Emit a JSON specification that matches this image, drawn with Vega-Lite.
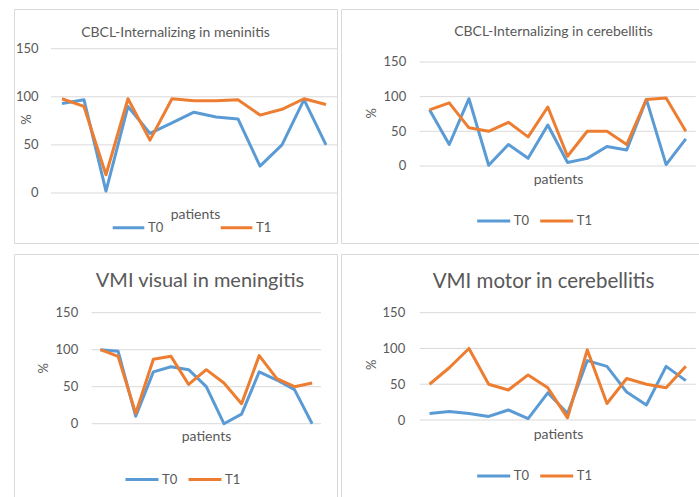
{
  "$schema": "https://vega.github.io/schema/vega-lite/v6.json",
  "padding": {"left": 13, "top": 8, "right": 0, "bottom": 0},
  "background": "white",
  "columns": 2,
  "spacing": {"row": 9, "column": 2},
  "resolve": {"scale": {"color": "independent", "x": "independent", "y": "independent"}, "legend": {"color": "independent"}},
  "config": {
    "font": "Lato",
    "view": {"stroke": "#d9d9d9", "strokeWidth": 1},
    "axis": {"grid": false, "domain": false, "ticks": false, "labelFont": "Lato", "labelColor": "#595959", "labelFontSize": 13, "titleFont": "Lato", "titleColor": "#595959", "titleFontWeight": "normal", "titleFontSize": 13},
    "title": {"font": "Lato", "color": "#595959", "fontWeight": "normal", "anchor": "middle", "baseline": "middle"},
    "legend": {"orient": "none", "direction": "horizontal", "symbolType": "stroke", "symbolStrokeWidth": 3, "labelFont": "Lato", "labelFontSize": 13, "labelColor": "#595959", "padding": 0, "labelOffset": 2},
    "line": {"strokeWidth": 3, "strokeJoin": "round"}
  },
  "concat": [
    {
      "width": 323, "height": 234,
      "title": {"text": "CBCL-Internalizing in meninitis", "fontSize": 14, "offset": -31, "dx": 0},
      "data": {"values": [
        {"p": 1, "T0": 93, "T1": 98}, {"p": 2, "T0": 97, "T1": 90}, {"p": 3, "T0": 2, "T1": 19},
        {"p": 4, "T0": 90, "T1": 98}, {"p": 5, "T0": 62, "T1": 55}, {"p": 6, "T0": 73, "T1": 98},
        {"p": 7, "T0": 84, "T1": 96}, {"p": 8, "T0": 79, "T1": 96}, {"p": 9, "T0": 77, "T1": 97},
        {"p": 10, "T0": 28, "T1": 81}, {"p": 11, "T0": 50, "T1": 87}, {"p": 12, "T0": 97, "T1": 98},
        {"p": 13, "T0": 50, "T1": 92}
      ]},
      "layer": [
        {
          "data": {"values": [{"g": 0}, {"g": 50}, {"g": 100}, {"g": 150}]},
          "mark": {"type": "rule", "color": "#d9d9d9", "strokeWidth": 1},
          "encoding": {"y": {"field": "g", "type": "quantitative"}, "x": {"datum": 0.5}, "x2": {"datum": 13.5}}
        },
        {
          "transform": [{"fold": ["T0", "T1"], "as": ["series", "value"]}],
          "mark": "line",
          "encoding": {
            "x": {"field": "p", "type": "quantitative", "scale": {"domain": [-1.18, 13.5], "nice": false, "zero": false},
                  "axis": {"labels": false, "title": "patients", "titleFontSize": 14, "titleX": 181, "titleY": -29, "titleBaseline": "middle", "titleAlign": "center"}},
            "y": {"field": "value", "type": "quantitative", "scale": {"domain": [-52, 191.3], "nice": false, "zero": false},
                  "axis": {"values": [0, 50, 100, 150], "offset": -37, "labelPadding": 13, "title": "%", "titleX": -25, "titleY": 110, "titleBaseline": "middle", "titleAlign": "center"}},
            "color": {"field": "series", "type": "nominal", "scale": {"domain": ["T0", "T1"], "range": ["#5B9BD5", "#ED7D31"]},
                      "legend": {"title": null, "legendX": 97, "legendY": 201, "symbolSize": 1000, "columnPadding": 55}}
          }
        }
      ]
    },
    {
      "width": 361, "height": 234,
      "title": {"text": "CBCL-Internalizing  in cerebellitis", "fontSize": 14, "offset": -30, "dx": 32},
      "data": {"values": [
        {"p": 1, "T0": 81, "T1": 81}, {"p": 2, "T0": 31, "T1": 91}, {"p": 3, "T0": 97, "T1": 55},
        {"p": 4, "T0": 1, "T1": 50}, {"p": 5, "T0": 31, "T1": 63}, {"p": 6, "T0": 11, "T1": 42},
        {"p": 7, "T0": 59, "T1": 85}, {"p": 8, "T0": 5, "T1": 14}, {"p": 9, "T0": 11, "T1": 50},
        {"p": 10, "T0": 28, "T1": 50}, {"p": 11, "T0": 23, "T1": 31}, {"p": 12, "T0": 96, "T1": 96},
        {"p": 13, "T0": 2, "T1": 98}, {"p": 14, "T0": 39, "T1": 50}
      ]},
      "layer": [
        {
          "data": {"values": [{"g": 0}, {"g": 50}, {"g": 100}, {"g": 150}]},
          "mark": {"type": "rule", "color": "#d9d9d9", "strokeWidth": 1},
          "encoding": {"y": {"field": "g", "type": "quantitative"}, "x": {"datum": 0.5}, "x2": {"datum": 14.5}}
        },
        {
          "transform": [{"fold": ["T0", "T1"], "as": ["series", "value"]}],
          "mark": "line",
          "encoding": {
            "x": {"field": "p", "type": "quantitative", "scale": {"domain": [-3.49, 14.82], "nice": false, "zero": false},
                  "axis": {"labels": false, "title": "patients", "titleFontSize": 14, "titleX": 217, "titleY": -64, "titleBaseline": "middle", "titleAlign": "center"}},
            "y": {"field": "value", "type": "quantitative", "scale": {"domain": [-111.1, 226.4], "nice": false, "zero": false},
                  "axis": {"values": [0, 50, 100, 150], "offset": -78.7, "labelPadding": 14, "title": "%", "titleX": -48.4, "titleY": 103.7, "titleBaseline": "middle", "titleAlign": "center"}},
            "color": {"field": "series", "type": "nominal", "scale": {"domain": ["T0", "T1"], "range": ["#5B9BD5", "#ED7D31"]},
                      "legend": {"title": null, "legendX": 134.7, "legendY": 194, "symbolSize": 1089, "columnPadding": 9}}
          }
        }
      ]
    },
    {
      "width": 323, "height": 244,
      "title": {"text": "VMI visual in meningitis", "fontSize": 20, "offset": -37, "dx": 24.5},
      "data": {"values": [
        {"p": 1, "T0": 100, "T1": 100}, {"p": 2, "T0": 98, "T1": 91}, {"p": 3, "T0": 10, "T1": 14},
        {"p": 4, "T0": 70, "T1": 87}, {"p": 5, "T0": 77, "T1": 91}, {"p": 6, "T0": 73, "T1": 53},
        {"p": 7, "T0": 50, "T1": 73}, {"p": 8, "T0": 0, "T1": 55}, {"p": 9, "T0": 13, "T1": 27},
        {"p": 10, "T0": 70, "T1": 92}, {"p": 11, "T0": 59, "T1": 61}, {"p": 12, "T0": 46, "T1": 50},
        {"p": 13, "T0": 0, "T1": 55}
      ]},
      "layer": [
        {
          "data": {"values": [{"g": 0}, {"g": 50}, {"g": 100}, {"g": 150}]},
          "mark": {"type": "rule", "color": "#d9d9d9", "strokeWidth": 1},
          "encoding": {"y": {"field": "g", "type": "quantitative"}, "x": {"datum": 0.5}, "x2": {"datum": 13.5}}
        },
        {
          "transform": [{"fold": ["T0", "T1"], "as": ["series", "value"]}],
          "mark": "line",
          "encoding": {
            "x": {"field": "p", "type": "quantitative", "scale": {"domain": [-3.9, 14.41], "nice": false, "zero": false},
                  "axis": {"labels": false, "title": "patients", "titleFontSize": 14, "titleX": 192, "titleY": -62, "titleBaseline": "middle", "titleAlign": "center"}},
            "y": {"field": "value", "type": "quantitative", "scale": {"domain": [-100.4, 229.3], "nice": false, "zero": false},
                  "axis": {"values": [0, 50, 100, 150], "offset": -77.7, "labelPadding": 14, "title": "%", "titleX": -48, "titleY": 113.7, "titleBaseline": "middle", "titleAlign": "center"}},
            "color": {"field": "series", "type": "nominal", "scale": {"domain": ["T0", "T1"], "range": ["#5B9BD5", "#ED7D31"]},
                      "legend": {"title": null, "legendX": 110, "legendY": 207.5, "symbolSize": 1089, "columnPadding": 9}}
          }
        }
      ]
    },
    {
      "width": 361, "height": 244,
      "title": {"text": "VMI motor in cerebellitis", "fontSize": 20.5, "offset": -38, "dx": 22},
      "data": {"values": [
        {"p": 1, "T0": 9, "T1": 50}, {"p": 2, "T0": 12, "T1": 73}, {"p": 3, "T0": 9, "T1": 100},
        {"p": 4, "T0": 5, "T1": 50}, {"p": 5, "T0": 14, "T1": 42}, {"p": 6, "T0": 2, "T1": 63},
        {"p": 7, "T0": 38, "T1": 45}, {"p": 8, "T0": 9, "T1": 3}, {"p": 9, "T0": 83, "T1": 98},
        {"p": 10, "T0": 75, "T1": 23}, {"p": 11, "T0": 39, "T1": 58}, {"p": 12, "T0": 21, "T1": 50},
        {"p": 13, "T0": 75, "T1": 45}, {"p": 14, "T0": 55, "T1": 75}
      ]},
      "layer": [
        {
          "data": {"values": [{"g": 0}, {"g": 50}, {"g": 100}, {"g": 150}]},
          "mark": {"type": "rule", "color": "#d9d9d9", "strokeWidth": 1},
          "encoding": {"y": {"field": "g", "type": "quantitative"}, "x": {"datum": 0.5}, "x2": {"datum": 14.5}}
        },
        {
          "transform": [{"fold": ["T0", "T1"], "as": ["series", "value"]}],
          "mark": "line",
          "encoding": {
            "x": {"field": "p", "type": "quantitative", "scale": {"domain": [-3.49, 14.82], "nice": false, "zero": false},
                  "axis": {"labels": false, "title": "patients", "titleFontSize": 14, "titleX": 217, "titleY": -64, "titleBaseline": "middle", "titleAlign": "center"}},
            "y": {"field": "value", "type": "quantitative", "scale": {"domain": [-109, 232], "nice": false, "zero": false},
                  "axis": {"values": [0, 50, 100, 150], "offset": -78.7, "labelPadding": 15, "title": "%", "titleX": -48.4, "titleY": 110.3, "titleBaseline": "middle", "titleAlign": "center"}},
            "color": {"field": "series", "type": "nominal", "scale": {"domain": ["T0", "T1"], "range": ["#5B9BD5", "#ED7D31"]},
                      "legend": {"title": null, "legendX": 134.7, "legendY": 204, "symbolSize": 1089, "columnPadding": 9}}
          }
        }
      ]
    }
  ]
}
